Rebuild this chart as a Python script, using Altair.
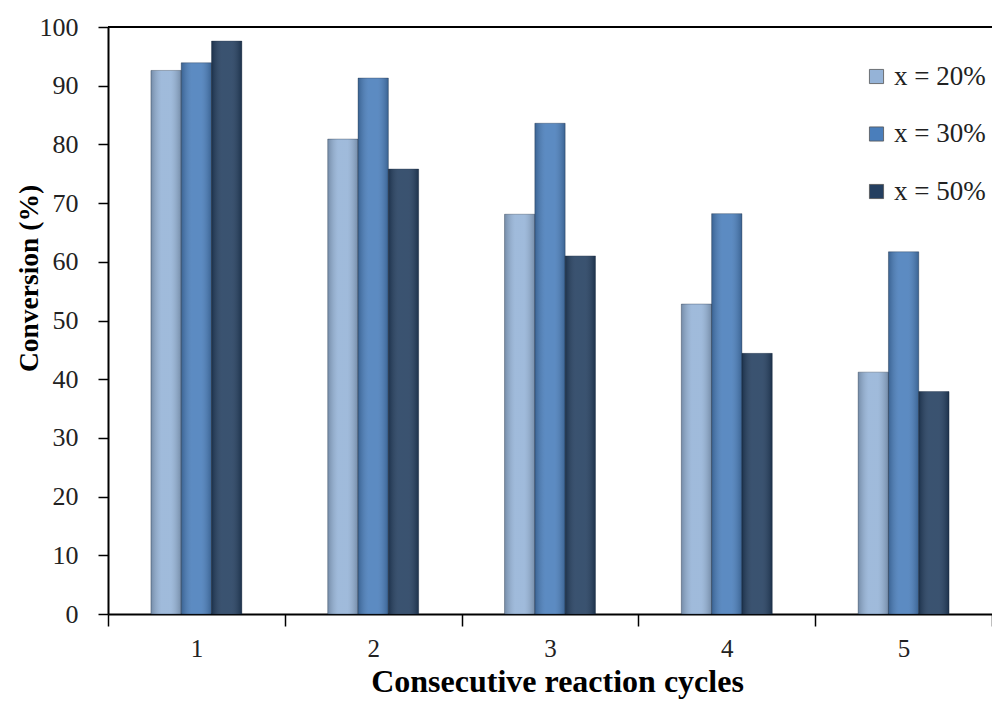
import altair as alt
import pandas as pd

cycles = ["1", "2", "3", "4", "5"]
series = ["x = 20%", "x = 30%", "x = 50%"]
conv_20 = [92.6, 80.9, 68.1, 52.8, 41.2]
conv_30 = [93.9, 91.3, 83.6, 68.2, 61.7]
conv_50 = [97.6, 75.8, 61.0, 44.4, 37.9]
colors = ["#95B3D7", "#4A7EBB", "#243F60"]
y_ticks = [0, 10, 20, 30, 40, 50, 60, 70, 80, 90, 100]

rows = []
for s, vals in zip(series, [conv_20, conv_30, conv_50]):
    for c, v in zip(cycles, vals):
        rows.append({"cycle": c, "series": s, "value": v})
df = pd.DataFrame(rows)

FONT = "Liberation Serif"

# empty slots on each side of the three bars to leave the gap between groups
offset_domain = ["_gapL"] + series + ["_gapR"]

x_enc = alt.X("cycle:N", sort=cycles,
              scale=alt.Scale(paddingInner=0, paddingOuter=0),
              axis=alt.Axis(title="Consecutive reaction cycles", labelAngle=0,
                            tickBand="extent", tickSize=12, tickColor="black",
                            tickWidth=1.5, domainColor="black", domainWidth=2,
                            labelFont=FONT, labelFontSize=25, labelColor="#222",
                            labelPadding=10, titleFont=FONT,
                            titleFontSize=32, titleFontWeight="bold",
                            titleColor="black", titleX=449, titleY=77,
                            titleAlign="center", titleBaseline="alphabetic",
                            grid=False))
y_enc = alt.Y("value:Q", scale=alt.Scale(domain=[0, 100], nice=False),
              axis=alt.Axis(title="Conversion (%)", values=y_ticks,
                            tickSize=10, tickColor="black", tickWidth=1.5,
                            domainColor="black", domainWidth=2,
                            labelFont=FONT, labelFontSize=26, labelColor="#222",
                            labelPadding=20, titleFont=FONT,
                            titleFontSize=27.5, titleFontWeight="bold",
                            titleColor="black", titleX=-71, titleY=251,
                            titleAlign="center", titleBaseline="alphabetic",
                            grid=False))
xo_enc = alt.XOffset("series:N",
                     scale=alt.Scale(domain=offset_domain, paddingInner=0.0,
                                     paddingOuter=0.417))

base = alt.Chart(df).encode(x=x_enc, y=y_enc, xOffset=xo_enc)

bars = base.mark_bar(stroke="#1a2a40", strokeWidth=0.6, strokeOpacity=0.6).encode(
    color=alt.Color("series:N", sort=series,
                    scale=alt.Scale(domain=series, range=colors),
                    legend=alt.Legend(title=None, orient="none", legendX=755,
                                      legendY=36, symbolType="square",
                                      symbolSize=200, symbolStrokeWidth=0.8,
                                      symbolStrokeColor="#555",
                                      labelFont=FONT, labelFontSize=27,
                                      labelColor="#222", rowPadding=29.5,
                                      labelOffset=4))
)

shade = base.mark_bar(
    color=alt.Gradient(
        gradient="linear", x1=0, x2=1, y1=0, y2=0,
        stops=[alt.GradientStop(color="rgba(0,0,0,0.22)", offset=0),
               alt.GradientStop(color="rgba(255,255,255,0.10)", offset=0.35),
               alt.GradientStop(color="rgba(255,255,255,0.10)", offset=0.65),
               alt.GradientStop(color="rgba(0,0,0,0.22)", offset=1)]
    )
)

top_line = alt.Chart(pd.DataFrame({"v": [100]})).mark_rule(
    color="black", strokeWidth=2).encode(y=alt.Y("v:Q"))

chart = alt.layer(bars, shade, top_line).properties(
    width=884, height=587,
    autosize=alt.AutoSizeParams(type="none"),
    padding={"left": 108, "top": 27, "right": 0, "bottom": 87},
).configure_view(stroke=None).configure(background="white")

chart.save("out.html", embed_options={"renderer": "svg", "actions": False})
